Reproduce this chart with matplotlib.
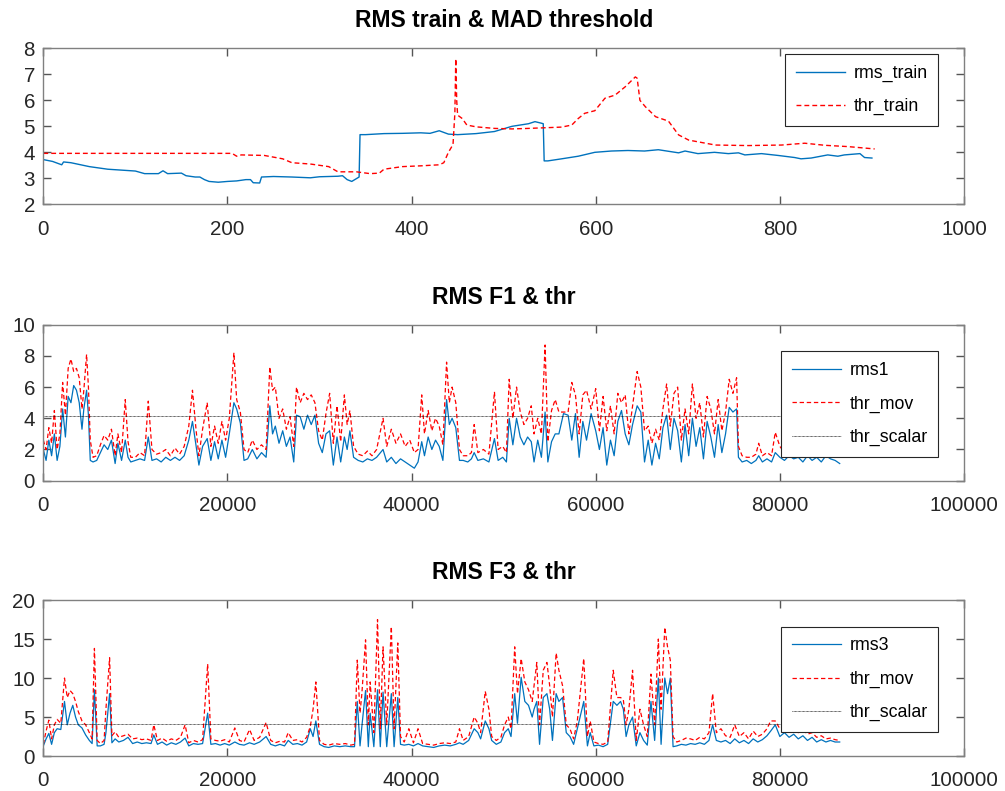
import matplotlib
matplotlib.use("Agg")
import matplotlib.pyplot as plt

plt.rcParams['font.family'] = ['Liberation Sans', 'DejaVu Sans']

# --- panel 1: training RMS and MAD threshold ---
train_x = [0, 10, 20, 22, 30, 50, 70, 100, 110, 125,
           130, 135, 150, 155, 165, 170, 175, 180, 190, 200,
           210, 220, 225, 228, 235, 237, 250, 270, 290, 300,
           320, 325, 330, 335, 343, 344, 350, 370, 390, 410,
           420, 430, 440, 450, 470, 490, 509, 527, 534, 541,
           543, 544, 548, 563, 581, 599, 617, 635, 653, 668,
           690, 697, 711, 729, 744, 755, 762, 780, 798, 816,
           823, 834, 852, 863, 870, 887, 892, 900]
rms_train = [3.72, 3.65, 3.52, 3.63, 3.6, 3.45, 3.35, 3.28, 3.18, 3.18,
             3.29, 3.18, 3.2, 3.1, 3.05, 3.05, 2.95, 2.88, 2.85, 2.88,
             2.9, 2.95, 2.95, 2.83, 2.82, 3.05, 3.07, 3.05, 3.02, 3.06,
             3.08, 3.1, 2.95, 2.88, 3.05, 4.68, 4.68, 4.72, 4.73, 4.75,
             4.73, 4.83, 4.7, 4.68, 4.72, 4.8, 5.0, 5.1, 5.18, 5.12,
             5.1, 3.67, 3.67, 3.75, 3.85, 4.0, 4.05, 4.07, 4.05, 4.1,
             3.98, 4.05, 3.95, 4.0, 3.95, 3.98, 3.9, 3.95, 3.88, 3.8,
             3.75, 3.78, 3.9, 3.85, 3.9, 3.95, 3.8, 3.78]

thr_x = [0, 205, 210, 215, 240, 260, 270, 290, 310, 320,
         340, 355, 365, 370, 390, 410, 430, 435, 440, 445,
         447, 448, 449, 450, 455, 460, 470, 490, 509, 527,
         563, 574, 581, 588, 599, 610, 621, 632, 643, 645,
         648, 654, 665, 679, 690, 701, 730, 766, 802, 827,
         849, 874, 903]
thr_train = [3.96, 3.96, 3.85, 3.9, 3.88, 3.75, 3.6, 3.55, 3.45, 3.25,
             3.25, 3.18, 3.2, 3.35, 3.45, 3.48, 3.52, 3.6, 4.0, 4.3,
             5.5, 7.6, 6.0, 5.43, 5.3, 5.05, 4.98, 4.92, 4.9, 4.92,
             4.97, 5.05, 5.3, 5.5, 5.6, 6.08, 6.2, 6.52, 6.9, 6.85,
             6.0, 5.75, 5.37, 5.2, 4.67, 4.47, 4.28, 4.26, 4.28, 4.35,
             4.27, 4.22, 4.13]

# --- panel 2: file 1 ---
f1_x = [0, 300, 600, 900, 1200, 1500, 1800, 2100, 2400, 2700,
        3000, 3300, 3600, 3900, 4200, 4400, 4700, 4900, 5100, 5400,
        5800, 6200, 6600, 7000, 7400, 7800, 8100, 8500, 8900, 9200,
        9500, 10000, 10500, 11000, 11400, 11800, 12300, 12800, 13300, 13800,
        14300, 14800, 15300, 15800, 16200, 16600, 16900, 17300, 17800, 18200,
        18600, 19000, 19400, 19800, 20200, 20700, 21000, 21400, 21800, 22200,
        22700, 23200, 23700, 24200, 24600, 24900, 25200, 25600, 26000, 26400,
        26800, 27200, 27500, 27900, 28300, 28700, 29100, 29500, 29900, 30300,
        30700, 31100, 31500, 31900, 32300, 32700, 33000, 33300, 33700, 34200,
        34700, 35200, 35700, 36200, 36900, 37300, 37800, 38300, 38800, 39300,
        39800, 40300, 40700, 41100, 41400, 41800, 42200, 42600, 43000, 43400,
        43800, 44100, 44400, 44800, 45200, 45600, 46100, 46500, 46800, 47200,
        47800, 48400, 49000, 49400, 49900, 50300, 50600, 51000, 51400, 51800,
        52200, 52600, 53000, 53300, 53700, 54100, 54500, 54800, 55200, 55600,
        56000, 56500, 57000, 57400, 57800, 58200, 58600, 59000, 59500, 60000,
        60400, 60800, 61200, 61600, 62000, 62400, 62800, 63200, 63600, 64000,
        64500, 64900, 65300, 65700, 66100, 66500, 66900, 67300, 67700, 68100,
        68500, 68900, 69300, 69700, 70100, 70500, 70900, 71300, 71700, 72100,
        72500, 72900, 73300, 73700, 74100, 74500, 74900, 75300, 75500, 75900,
        76400, 76900, 77400, 77700, 78100, 78600, 79100, 79500, 80000, 80500,
        81000, 81500, 82000, 82500, 83000, 83500, 84000, 84500, 85000, 85500,
        86000, 86500]
rms1 = [2.0, 1.3, 2.6, 1.6, 3.0, 1.3, 2.2, 4.6, 2.8, 5.4,
        5.0, 6.1, 5.8, 5.0, 3.3, 4.6, 5.8, 4.2, 1.3, 1.2,
        1.3, 1.8, 2.3, 2.0, 2.6, 1.1, 2.4, 1.3, 2.6, 1.5,
        1.2, 1.3, 1.4, 1.3, 2.8, 1.3, 1.4, 1.2, 1.5, 1.3,
        1.5, 1.3, 1.6, 2.6, 3.8, 2.2, 1.0, 2.2, 2.7, 1.3,
        2.5, 1.4, 2.6, 1.5, 3.0, 5.0, 4.6, 3.7, 1.3, 1.4,
        2.0, 1.4, 1.8, 1.5, 4.8, 3.0, 3.5, 2.4, 3.2, 2.2,
        2.8, 1.2, 4.2, 4.1, 3.3, 4.2, 3.6, 4.2, 2.4, 1.8,
        3.0, 3.2, 1.0, 2.8, 1.2, 2.8, 2.0, 3.2, 1.5, 1.3,
        1.2, 1.4, 1.3, 1.5, 2.0, 1.2, 1.5, 1.1, 1.4, 1.2,
        1.0, 0.8, 1.2, 2.5, 1.6, 2.8, 2.0, 2.6, 2.2, 1.3,
        5.2, 3.6, 4.0, 3.4, 1.3, 1.3, 1.2, 1.4, 1.8, 1.3,
        1.4, 1.2, 2.7, 1.3, 1.5, 1.2, 4.0, 2.3, 4.0, 2.8,
        2.3, 2.8, 2.5, 1.2, 2.6, 1.5, 4.4, 1.2, 2.5, 3.0,
        3.0, 4.3, 4.2, 2.6, 4.3, 1.5, 3.8, 2.6, 4.3, 3.2,
        2.0, 3.4, 1.0, 2.6, 1.6, 3.8, 4.5, 3.0, 2.3, 3.6,
        4.8, 4.4, 1.2, 2.6, 1.0, 2.4, 1.4, 3.4, 4.2, 2.0,
        4.0, 3.2, 1.2, 3.6, 1.6, 4.0, 2.2, 3.4, 1.4, 3.8,
        2.8, 1.5, 3.6, 1.8, 3.0, 4.7, 4.4, 4.6, 1.5, 1.2,
        1.3, 1.1, 1.3, 1.6, 1.2, 1.4, 1.2, 1.8, 1.5, 1.3,
        1.6, 1.4, 1.5, 1.2, 1.6, 1.3, 1.5, 1.2, 1.6, 1.4,
        1.3, 1.1]
thr_mov1 = [2.6, 2.0, 3.4, 2.4, 4.5, 2.0, 3.0, 6.3, 4.2, 7.2,
            7.8, 7.0, 7.2, 6.6, 4.6, 5.8, 8.1, 6.0, 2.6, 1.5,
            1.6, 2.3, 2.9, 2.6, 3.3, 1.6, 3.0, 1.8, 5.2, 2.5,
            1.5, 1.5, 1.8, 1.6, 5.1, 2.0, 1.7, 1.8, 2.0, 1.6,
            2.1, 1.7, 2.2, 3.5, 5.8, 3.2, 1.6, 3.3, 5.0, 2.2,
            3.5, 2.4, 3.8, 2.6, 4.0, 8.2, 5.2, 4.4, 2.0, 1.8,
            2.6, 2.0, 2.3, 2.0, 7.3, 5.8, 6.0, 4.0, 4.6, 3.3,
            4.1, 2.2, 6.0, 5.0, 5.6, 5.2, 5.5, 5.0, 3.2, 2.6,
            4.3, 5.6, 2.4, 4.8, 2.5, 5.5, 3.6, 4.5, 2.2, 1.7,
            1.6, 1.9, 1.6, 2.0, 4.0, 2.2, 3.3, 2.4, 3.0, 2.2,
            2.6, 1.8, 2.0, 5.5, 3.0, 4.5, 3.2, 4.0, 3.5, 2.3,
            7.6, 5.0, 6.0, 5.0, 2.0, 1.6, 1.6, 1.8, 3.6, 1.8,
            2.0, 1.7, 5.7, 2.0, 2.2, 1.8, 6.5, 4.0, 6.0, 4.4,
            3.6, 4.0, 4.8, 3.0, 4.0, 3.0, 8.7, 2.5, 4.5, 5.2,
            4.4, 4.4, 4.4, 6.3, 5.5, 3.0, 5.5, 5.8, 4.6, 5.9,
            3.2, 5.4, 3.2, 4.8, 3.0, 5.6, 5.0, 5.5, 3.0, 4.8,
            7.0, 6.0, 3.2, 3.5, 2.4, 3.3, 2.6, 4.6, 6.2, 3.5,
            5.6, 6.0, 2.6, 4.6, 3.0, 6.2, 4.0, 5.0, 2.8, 5.4,
            4.6, 3.0, 5.2, 3.2, 4.4, 6.5, 5.6, 6.6, 2.2, 1.6,
            1.5, 1.5, 1.7, 2.4, 1.6, 1.8, 1.6, 3.1, 2.2, 1.8,
            2.4, 2.0, 2.2, 1.7, 2.4, 1.8, 1.9, 1.6, 2.0, 1.8,
            1.7, 1.5]
thr_scalar1 = 4.15

# --- panel 3: file 3 ---
f3_x = [0, 300, 600, 900, 1200, 1500, 1900, 2300, 2600, 2900,
        3200, 3500, 3800, 4200, 4600, 5000, 5300, 5550, 5850, 6200,
        6600, 6800, 7200, 7450, 7800, 8200, 8700, 9200, 9700, 10200,
        10700, 11200, 11700, 12000, 12400, 12900, 13400, 13900, 14400, 14900,
        15400, 15800, 16300, 16800, 17300, 17850, 18200, 18700, 19200, 19700,
        20200, 20800, 21300, 21800, 22400, 22900, 23500, 24200, 24700, 25200,
        25700, 26200, 26600, 27100, 27600, 28100, 28600, 29000, 29300, 29600,
        30000, 30500, 31000, 31600, 32200, 32800, 33400, 33800, 34100, 34400,
        34600, 35000, 35300, 35500, 35900, 36300, 36600, 36900, 37300, 37800,
        38100, 38500, 38800, 39200, 39700, 40200, 40700, 41200, 41800, 42400,
        43000, 43600, 44200, 44800, 45200, 45600, 46200, 46800, 47200, 47500,
        48000, 48400, 48700, 49200, 49700, 50100, 50500, 50800, 51200, 51500,
        51900, 52300, 52700, 53100, 53300, 53600, 53900, 54300, 54700, 55000,
        55300, 55700, 56000, 56400, 56800, 57200, 57600, 58000, 58700, 59100,
        59400, 59800, 60300, 60800, 61300, 61900, 62300, 62700, 63000, 63300,
        63600, 64000, 64400, 64800, 65200, 65600, 66000, 66400, 66800, 67100,
        67500, 67800, 68100, 68400, 68800, 69300, 69800, 70300, 70800, 71300,
        71800, 72300, 72700, 73100, 73600, 74100, 74600, 75100, 75600, 76100,
        76600, 77100, 77600, 78100, 78600, 79000, 79500, 80000, 80500, 81000,
        81500, 82000, 82500, 83000, 83500, 84000, 84500, 85000, 85500, 86000,
        86500]
rms3 = [1.3, 2.2, 2.9, 1.5, 3.0, 3.5, 3.4, 7.0, 4.0, 5.5,
        6.5, 5.0, 4.0, 3.6, 2.7, 2.0, 1.6, 8.5, 1.3, 1.3,
        1.5, 3.0, 8.0, 1.7, 2.2, 1.8, 2.0, 2.4, 1.6, 1.8,
        1.6, 1.7, 1.6, 2.7, 1.5, 1.8, 1.4, 1.7, 1.5, 1.8,
        2.3, 1.3, 1.6, 1.5, 1.6, 5.5, 1.5, 1.6, 1.4, 1.6,
        1.4, 1.8, 1.5, 1.4, 1.7, 1.5, 1.8, 2.5, 1.5, 1.3,
        1.5, 1.3, 2.0, 1.5, 1.6, 1.4, 1.8, 3.5, 2.5, 4.5,
        1.5, 1.2, 1.1, 1.3, 1.2, 1.3, 1.2, 1.2, 7.0, 1.3,
        3.8, 8.4, 1.2, 5.5, 1.2, 8.5, 1.2, 8.2, 1.2, 8.0,
        1.2, 7.5, 1.5, 1.4, 1.5, 1.3, 1.6, 1.3, 1.2, 1.1,
        1.3, 1.4, 1.3, 1.5, 1.7, 1.5, 2.0, 3.5, 3.0, 2.2,
        4.5, 3.5, 2.0, 1.5, 1.8, 3.0, 3.5, 2.5, 8.0, 4.2,
        10.1, 7.0, 6.5, 5.0, 6.0, 7.0, 1.5, 7.5, 8.0, 6.0,
        2.0, 8.0, 7.0, 7.5, 3.0, 2.5, 1.5, 3.5, 7.0, 1.3,
        3.0, 1.3, 1.4, 1.2, 1.5, 7.0, 6.5, 7.0, 6.0, 2.5,
        4.0, 5.0, 1.3, 3.0, 2.0, 1.4, 7.0, 2.0, 10.0, 1.5,
        10.0, 8.0, 10.0, 1.2, 1.3, 1.5, 1.4, 1.6, 1.5, 1.7,
        1.5, 2.0, 4.0, 2.0, 1.8, 2.0, 1.6, 2.2, 1.7, 2.0,
        1.6, 2.2, 1.8, 2.1, 2.6, 3.2, 4.0, 2.5, 3.0, 2.4,
        2.8, 2.2, 2.6, 2.0, 2.4, 1.8, 2.1, 1.8, 2.0, 1.8,
        1.8]
thr_mov3 = [1.5, 3.2, 4.6, 2.2, 4.0, 4.7, 4.2, 10.0, 7.5, 8.4,
            8.0, 7.0, 5.7, 4.5, 4.0, 3.0, 2.2, 13.8, 2.0, 1.6,
            2.0, 6.0, 12.6, 2.6, 3.1, 2.4, 2.6, 2.8, 2.2, 2.3,
            2.1, 2.2, 2.0, 4.0, 2.0, 2.3, 1.9, 2.2, 2.0, 2.4,
            4.0, 1.7, 2.0, 1.8, 2.1, 11.8, 2.2, 2.0, 1.9, 2.1,
            1.8, 3.6, 2.0, 1.8, 3.4, 2.0, 2.4, 4.3, 2.0, 1.7,
            1.9, 1.8, 3.0, 2.0, 2.1, 1.8, 2.4, 3.8, 6.0, 9.5,
            2.0, 1.5, 1.4, 1.6, 1.5, 1.6, 1.4, 1.5, 12.3, 5.5,
            8.0, 14.9, 4.0, 9.5, 3.0, 17.5, 3.5, 14.0, 4.0, 16.6,
            3.5, 14.5, 2.5, 1.8, 3.5, 1.7, 3.5, 1.6, 1.5, 1.4,
            1.6, 1.7, 1.6, 1.8, 3.5, 2.0, 2.5, 5.0, 4.2, 3.0,
            8.3, 6.0, 2.5, 2.0, 2.4, 4.0, 5.0, 3.5, 14.0, 8.0,
            12.5, 9.5, 8.5, 7.0, 9.0, 12.0, 4.0, 11.0, 12.0, 9.0,
            5.0, 13.2, 11.0, 9.0, 4.0, 3.5, 2.2, 4.5, 12.5, 2.5,
            4.5, 1.8, 1.6, 1.5, 1.8, 11.0, 7.5, 7.5, 7.2, 4.0,
            6.0, 11.0, 2.0, 6.0, 4.0, 2.5, 10.5, 4.0, 15.0, 6.0,
            16.5, 14.0, 12.3, 2.5, 1.8, 2.0, 2.3, 2.2, 2.0, 2.4,
            2.2, 3.0, 8.0, 3.0, 3.5, 2.6, 2.4, 4.0, 2.5, 3.0,
            2.2, 3.2, 2.5, 2.8, 3.5, 4.5, 4.5, 3.5, 3.8, 3.2,
            3.6, 3.0, 3.4, 2.8, 3.0, 2.4, 2.6, 2.2, 2.3, 2.1,
            2.0]
thr_scalar3 = 4.05

blue = '#0072BD'
frame = '#808080'

fig = plt.figure(figsize=(10.05, 7.91), dpi=100)
left, width, height = 0.0431, 0.9161, 0.1972
ax1 = fig.add_axes([left, 0.7417, width, height])
ax2 = fig.add_axes([left, 0.3923, width, height])
ax3 = fig.add_axes([left, 0.0442, width, height])


def style(ax, title, xmax, ymin, ymax, ystep, xstep):
    ax.set_xlim(0, xmax)
    ax.set_ylim(ymin, ymax)
    ax.set_xticks(range(0, xmax + 1, xstep))
    ax.set_yticks(range(ymin, ymax + 1, ystep))
    ax.tick_params(direction='in', length=6, width=1, colors='#555555',
                   labelcolor='#262626', labelsize=14.8,
                   top=True, right=True)
    ax.tick_params(axis='x', pad=11)
    ax.tick_params(axis='y', pad=6)
    for s in ax.spines.values():
        s.set_color(frame)
        s.set_linewidth(1)
    ax.set_title(title, fontsize=16.5, fontweight='bold', pad=15)


def legend(ax, top):
    lg = ax.legend(loc='upper right', bbox_to_anchor=(0.972, top),
                   borderaxespad=0, fontsize=12.8, fancybox=False,
                   framealpha=1, edgecolor='#262626', handlelength=2.8,
                   handletextpad=0.45, labelspacing=0.92, borderpad=0.6)
    lg.get_frame().set_linewidth(0.8)


# panel 1
ax1.plot(train_x, rms_train, color=blue, lw=1, label='rms_train')
ax1.plot(thr_x, thr_train, color='red', lw=1, dashes=(3.5, 2.2), label='thr_train')
style(ax1, 'RMS train & MAD threshold', 1000, 2, 8, 1, 200)
legend(ax1, 0.963)

# panel 2
ax2.plot(f1_x, rms1, color=blue, lw=0.9, label='rms1')
ax2.plot(f1_x, thr_mov1, color='red', lw=0.9, dashes=(3.5, 2.2), label='thr_mov')
ax2.plot([f1_x[0], f1_x[-1]], [thr_scalar1, thr_scalar1], color='k', lw=0.6,
         dashes=(0.8, 0.8), label='thr_scalar')
style(ax2, 'RMS F1 & thr', 100000, 0, 10, 2, 20000)
legend(ax2, 0.829)

# panel 3
ax3.plot(f3_x, rms3, color=blue, lw=0.9, label='rms3')
ax3.plot(f3_x, thr_mov3, color='red', lw=0.9, dashes=(3.5, 2.2), label='thr_mov')
ax3.plot([f3_x[0], f3_x[-1]], [thr_scalar3, thr_scalar3], color='k', lw=0.6,
         dashes=(0.8, 0.8), label='thr_scalar')
style(ax3, 'RMS F3 & thr', 100000, 0, 20, 5, 20000)
legend(ax3, 0.829)

fig.savefig('out.png', dpi=100)
